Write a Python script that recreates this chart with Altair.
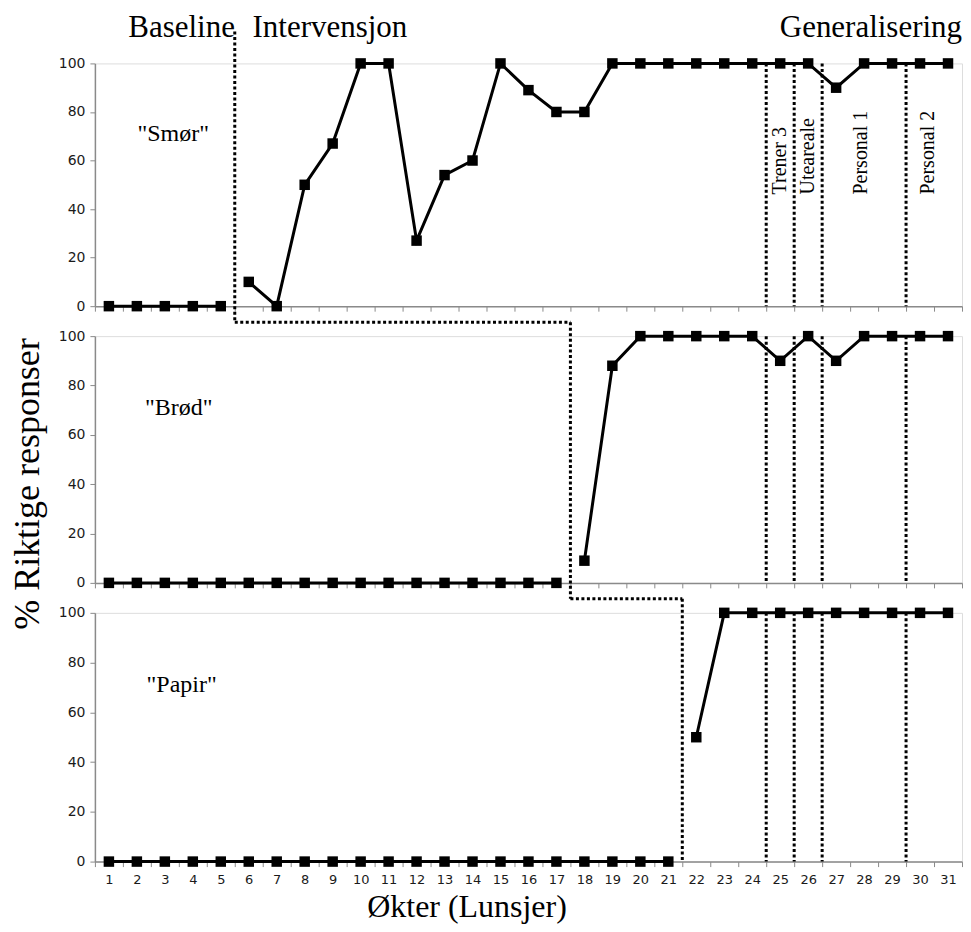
import altair as alt
import pandas as pd

# ---------------- data ----------------
sessions = [1, 2, 3, 4, 5, 6, 7, 8, 9, 10, 11, 12, 13, 14, 15, 16,
            17, 18, 19, 20, 21, 22, 23, 24, 25, 26, 27, 28, 29, 30, 31]
smor_values = [0, 0, 0, 0, 0, 10, 0, 50, 67, 100, 100, 27, 54, 60, 100, 89,
               80, 80, 100, 100, 100, 100, 100, 100, 100, 100, 90, 100, 100, 100, 100]
brod_values = [0, 0, 0, 0, 0, 0, 0, 0, 0, 0, 0, 0, 0, 0, 0, 0,
               0, 9, 88, 100, 100, 100, 100, 100, 90, 100, 90, 100, 100, 100, 100]
papir_values = [0, 0, 0, 0, 0, 0, 0, 0, 0, 0, 0, 0, 0, 0, 0, 0,
                0, 0, 0, 0, 0, 50, 100, 100, 100, 100, 100, 100, 100, 100, 100]
panel_names = ['"Smør"', '"Brød"', '"Papir"']
baseline_last_session = [5, 17, 21]
phase_change_x = [5.5, 17.5, 21.5]
generalization_bounds = [24.5, 25.5, 26.5, 29.5]
generalization_labels = ["Trener 3", "Uteareale", "Personal 1", "Personal 2"]
header_labels = ["Baseline", "Intervensjon", "Generalisering"]
y_ticks = [0, 20, 40, 60, 80, 100]

# ---------------- annotation placement / layout ----------------
generalization_label_x = [25.0, 26.0, 27.9, 30.3]
header_x = [3.6, 8.9, 31.5]
header_align = ["center", "center", "right"]
panel_label_x = [3.3, 3.5, 3.6]
SERIF = "Liberation Serif"
SANS = "DejaVu Sans"
W = 868
heights = [243, 247, 249]
GAP = 30
DROP = 16  # px below a panel where the phase line turns

half_ticks = [s - 0.5 for s in sessions] + [sessions[-1] + 0.5]
x_vals = sorted(sessions + half_ticks)
xscale = alt.Scale(domain=[0.5, 31.5], nice=False, zero=False)
yscale = alt.Scale(domain=[0, 100], nice=False)


def x_axis(bottom):
    kw = dict(
        values=x_vals,
        tickSize=5,
        tickOpacity={"condition": {"test": "datum.value % 1 === 0", "value": 0}, "value": 1},
        grid=False,
        domainColor="#8a8a8a",
        domainWidth=1.5,
        tickColor="#8a8a8a",
    )
    if bottom:
        kw.update(labels=True,
                  labelExpr="datum.value % 1 === 0 ? format(datum.value, 'd') : ''",
                  labelOverlap=False, labelBound=False,
                  labelFont=SANS, labelFontSize=13, labelColor="#1a1a1a",
                  labelPadding=7,
                  title="Økter (Lunsjer)", titleFont=SERIF, titleFontSize=32,
                  titleFontWeight="normal", titleColor="black",
                  titlePadding=5, titleX=372)
    else:
        kw.update(labels=False, title=None)
    return alt.Axis(**kw)


def y_axis(with_title, h):
    kw = dict(values=y_ticks, tickSize=5, labelFont=SANS, labelFontSize=14,
              labelColor="#1a1a1a", labelPadding=5, grid=False,
              domainColor="#8a8a8a", domainWidth=1.5, tickColor="#8a8a8a")
    if with_title:
        kw.update(title="% Riktige responser", titleFont=SERIF, titleFontSize=36,
                  titleFontWeight="normal", titleColor="black", titlePadding=12,
                  titleY=h / 2 + 24)
    else:
        kw.update(title=None)
    return alt.Axis(**kw)


series = [smor_values, brod_values, papir_values]
panels = []
for i in range(3):
    h = heights[i]
    ppu = h / 100.0
    bottom = i == 2
    xa = x_axis(bottom)
    ya = y_axis(i == 1, h)

    df = pd.DataFrame({"session": sessions, "value": series[i]})
    df["phase"] = ["Baseline" if s <= baseline_last_session[i] else "Intervensjon"
                   for s in sessions]

    X = lambda f: alt.X(f, scale=xscale, axis=xa)
    Y = lambda f: alt.Y(f, scale=yscale, axis=ya)

    # phase-change step line segments
    top_ext = 100 + (32 / ppu if i == 0 else 14 / ppu)
    segs = [dict(x=phase_change_x[i], x2=phase_change_x[i], y=top_ext,
                 y2=(0 if i == 2 else -DROP / ppu))]
    if i < 2:
        segs.append(dict(x=phase_change_x[i], x2=phase_change_x[i + 1],
                         y=-DROP / ppu, y2=-DROP / ppu))
    seg_df = pd.DataFrame(segs)
    phase_rules = alt.Chart(seg_df).mark_rule(
        color="black", strokeWidth=3, strokeDash=[3, 2.5], strokeCap="butt"
    ).encode(x=X("x:Q"), x2="x2:Q", y=Y("y:Q"), y2="y2:Q")

    gen_df = pd.DataFrame({"g": generalization_bounds,
                           "top": [100] * len(generalization_bounds),
                           "bot": [0] * len(generalization_bounds)})
    gen_rules = alt.Chart(gen_df).mark_rule(
        color="black", strokeWidth=3, strokeDash=[3, 2.5], strokeCap="butt"
    ).encode(x=X("g:Q"), y=Y("top:Q"), y2="bot:Q")

    line = alt.Chart(df).mark_line(color="black", strokeWidth=3).encode(
        x=X("session:Q"), y=Y("value:Q"), detail="phase:N")
    pts = alt.Chart(df).mark_point(shape="square", filled=True, size=110,
                                   color="black", opacity=1).encode(
        x=X("session:Q"), y=Y("value:Q"))

    lab_df = pd.DataFrame({"t": [panel_names[i]], "x": [panel_label_x[i]], "y": [71]})
    panel_label = alt.Chart(lab_df).mark_text(
        font=SERIF, fontSize=24, color="black", align="center", baseline="middle"
    ).encode(x=X("x:Q"), y=Y("y:Q"), text="t:N")

    layers = [gen_rules, phase_rules, line, pts, panel_label]

    if i == 0:
        gl_df = pd.DataFrame({"t": generalization_labels, "x": generalization_label_x,
                              "y": [46] * 4})
        gen_text = alt.Chart(gl_df).mark_text(
            font=SERIF, fontSize=20, color="black", angle=270, align="left",
            baseline="middle"
        ).encode(x=X("x:Q"), y=Y("y:Q"), text="t:N")
        for j in range(3):
            hd_df = pd.DataFrame({"t": [header_labels[j]], "x": [header_x[j]],
                                  "y": [100 + 35 / ppu]})
            layers.append(alt.Chart(hd_df).mark_text(
                font=SERIF, fontSize=31, color="black", align=header_align[j],
                baseline="middle"
            ).encode(x=X("x:Q"), y=Y("y:Q"), text="t:N"))
        layers.append(gen_text)

    panels.append(alt.layer(*layers).properties(width=W, height=h))

chart = alt.vconcat(*panels, spacing=GAP, bounds="flush").configure_view(
    stroke="#8a8a8a", strokeWidth=1.5
).configure(background="white",
            padding={"top": 3, "left": 0, "right": 0, "bottom": 0})

chart.save("out.html", embed_options={"renderer": "svg", "actions": False})
